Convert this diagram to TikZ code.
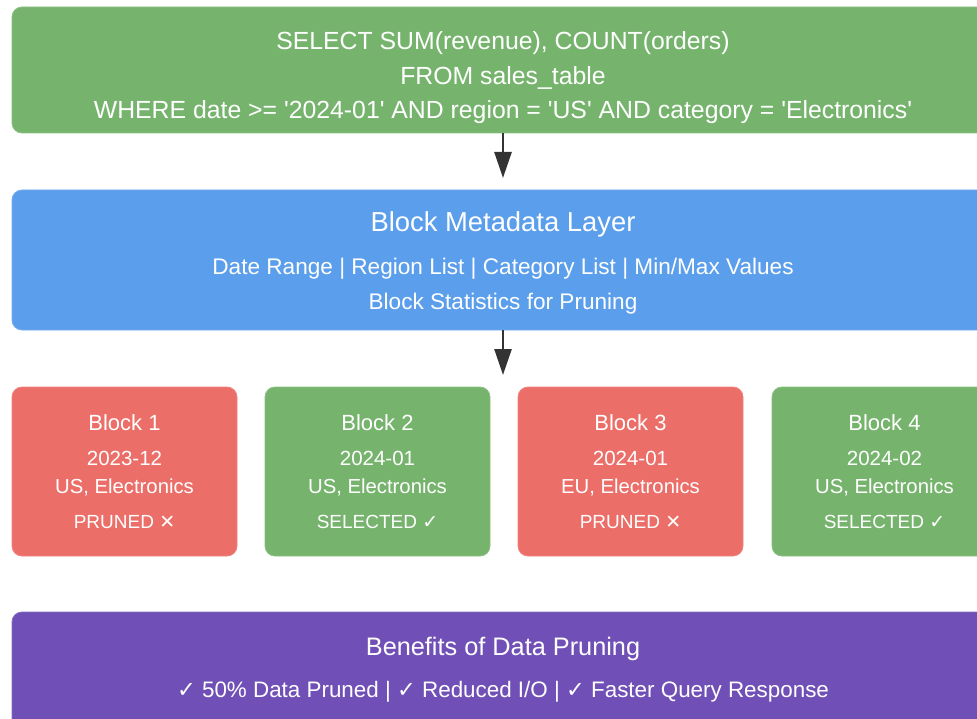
\documentclass[tikz,border=0pt]{standalone}
\usepackage{fontspec}
\setmainfont{Liberation Sans}[Ligatures=TeXOff]
\newfontfamily\symf{DejaVu Sans}
\usetikzlibrary{arrows.meta}
\definecolor{qgreen}{HTML}{76B46D}
\definecolor{qblue}{HTML}{5B9EEB}
\definecolor{qred}{HTML}{EC6E68}
\definecolor{qpurple}{HTML}{7050B6}
\definecolor{qarrow}{HTML}{333333}
\tikzset{
  panel/.style={rounded corners=10pt, line width=0.8pt},
  txt/.style={text=white, anchor=base, inner sep=0pt},
  flow/.style={draw=qarrow, line width=2.6pt, -{Triangle[width=17pt,length=26pt]}},
}
\newcommand{\fs}[1]{\fontsize{#1}{#1}\selectfont}
\begin{document}
\begin{tikzpicture}[x=1pt,y=-1pt]
\useasboundingbox (0,0) rectangle (977,719);
\clip (0,0) rectangle (977,719);
% top query box
\node[panel, fill=qgreen, draw=qgreen!85!white, minimum width=984pt, minimum height=126pt] (query) at (504,70) {};
\node[txt, font=\fs{24.8}] (q1) at (503,50) {SELECT SUM(revenue), COUNT(orders)};
\node[txt, font=\fs{24.8}] (q2) at (503,85) {FROM sales\_table};
\node[txt, font=\fs{24.8}] (q3) at (503,119) {WHERE date >= '2024-01' AND region = 'US' AND category = 'Electronics'};
% metadata
\node[panel, fill=qblue, draw=qblue!85!white, minimum width=984pt, minimum height=140pt] (meta) at (504,260) {};
\node[txt, font=\fs{27.4}] (m1) at (503,232) {Block Metadata Layer};
\node[txt, font=\fs{22.6}] (m2) at (503,275) {Date Range | Region List | Category List | Min/Max Values};
\node[txt, font=\fs{22.6}] (m3) at (503,309) {Block Statistics for Pruning};
% blocks
\foreach \i/\x/\c/\d/\r/\s in {1/124.5/qred/2023-12/US/{PRUNED {\symf ✕}},
                              2/377.5/qgreen/2024-01/US/{SELECTED {\symf ✓}},
                              3/630.5/qred/2024-01/EU/{PRUNED {\symf ✕}},
                              4/884.5/qgreen/2024-02/US/{SELECTED {\symf ✓}}}{
  \node[panel, fill=\c, draw=\c!85!white, minimum width=225pt, minimum height=169pt] (b\i) at (\x,471.5) {};
  \node[txt, font=\fs{22}] (bt\i) at (\x,430) {Block \i};
  \node[txt, font=\fs{20.5}] (bd\i) at (\x,465) {\d};
  \node[txt, font=\fs{20.3}] (br\i) at (\x,493) {\r, Electronics};
  \node[txt, font=\fs{19}] (bs\i) at (\x,528) {\s};
}
% benefits
\node[panel, fill=qpurple, draw=qpurple!85!white, minimum width=984pt, minimum height=130pt] (ben) at (504,677) {};
\node[txt, font=\fs{25.3}] (p1) at (503,655) {Benefits of Data Pruning};
\node[txt, font=\fs{22.4}] (p2) at (503,697) {{\symf ✓} 50\% Data Pruned | {\symf ✓} Reduced I/O | {\symf ✓} Faster Query Response};
% arrows
\coordinate (a1) at (503,190);
\coordinate (a2) at (503,387);
\draw[flow, shorten >=12pt] (query.south -| a1) -- (a1);
\draw[flow, shorten >=12pt] (meta.south -| a2) -- (a2);
\end{tikzpicture}
\end{document}
